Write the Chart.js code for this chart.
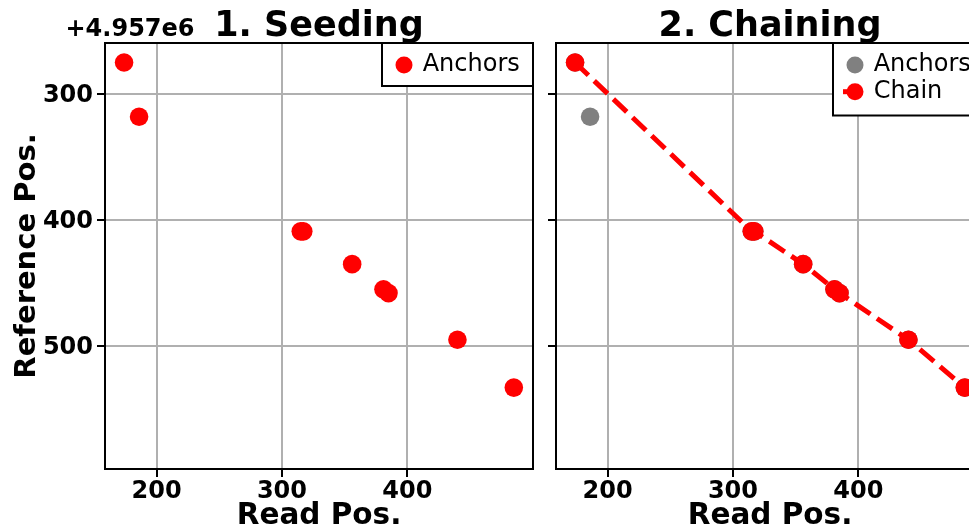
<!DOCTYPE html>
<html><head><meta charset="utf-8">
<script src="https://cdn.jsdelivr.net/npm/chart.js@4.4.1/dist/chart.umd.min.js"></script>
<style>
html,body{margin:0;padding:0;width:969px;height:530px;overflow:hidden;background:#fff;}
canvas{position:absolute;top:0;}
#c1{left:0;}
#c2{left:545px;}
</style></head><body>
<canvas id="c1" width="545" height="530"></canvas>
<canvas id="c2" width="452" height="530"></canvas>
<script>
// ---- data ----
const REF_OFFSET = 4957000;
const readPos = [174, 186, 315, 317, 356, 381, 385, 440, 485];
const refPos  = [4957275, 4957318, 4957409, 4957409, 4957435, 4957455, 4957458, 4957495, 4957533];
const chainRead = [174, 315, 317, 356, 381, 385, 440, 485];
const chainRef  = [4957275, 4957409, 4957409, 4957435, 4957455, 4957458, 4957495, 4957533];
const xTicks = [200, 300, 400];
const yTicks = [4957300, 4957400, 4957500];
const xRange = [158.8, 500.3];
const yRange = [4957259.5, 4957597.6];
const panelTitles = ['1. Seeding', '2. Chaining'];
const xLabel = 'Read Pos.';
const yLabel = 'Reference Pos.';

const FONT = '"DejaVu Sans", sans-serif';
const RED = '#ff0000', GRAY = '#808080';

function pts(xs, ys){ return xs.map((x,i)=>({x:x, y:ys[i]})); }

function decorPlugin(title, legendItems, showOffset){
  return {
    id:'decor',
    afterDraw(chart){
      const ctx = chart.ctx, a = chart.chartArea;
      ctx.save();
      // frame
      ctx.strokeStyle = '#000'; ctx.lineWidth = 2;
      ctx.strokeRect(a.left, a.top, a.right - a.left, a.bottom - a.top);
      // title
      ctx.fillStyle = '#000';
      ctx.font = 'bold 35px ' + FONT;
      ctx.textAlign = 'center'; ctx.textBaseline = 'alphabetic';
      ctx.fillText(title, (a.left + a.right)/2, 35.6);
      // offset text
      if (showOffset){
        ctx.font = 'bold 24px ' + FONT;
        ctx.textAlign = 'left';
        ctx.fillText('+' + (REF_OFFSET/1e6).toFixed(3) + 'e6', 65.5, 36.2);
      }
      // legend
      const n = legendItems.length;
      const w = 151, h = 13.5 + n*29.5;
      const L = a.right - w, T = a.top;
      ctx.fillStyle = '#fff';
      ctx.fillRect(L, T, w, h);
      ctx.strokeStyle = '#000'; ctx.lineWidth = 2;
      ctx.strokeRect(L, T, w, h);
      legendItems.forEach((it, i)=>{
        const cy = T + 22 + i*26.7, cx = L + 22;
        if (it.line){
          ctx.strokeStyle = it.color; ctx.lineWidth = 5; ctx.setLineDash([]);
          ctx.beginPath(); ctx.moveTo(L+10, cy); ctx.lineTo(cx, cy); ctx.stroke();
        }
        ctx.fillStyle = it.color;
        ctx.beginPath(); ctx.arc(cx, cy, 8.5, 0, Math.PI*2); ctx.fill();
        ctx.fillStyle = '#000';
        ctx.font = '24px ' + FONT;
        ctx.textAlign = 'left'; ctx.textBaseline = 'alphabetic';
        ctx.fillText(it.text, L + 40.7, cy + 6.3);
      });
      ctx.restore();
    }
  };
}

function makeChart(id, datasets, title, showY, legendItems, yAxisWidth, padRight){
  const gridOpts = {color:'#b0b0b0', lineWidth:2, drawTicks:true, tickLength:8, tickColor:'#000', tickWidth:2};
  return new Chart(document.getElementById(id), {
    type:'scatter',
    data:{datasets:datasets},
    options:{
      responsive:false, animation:false, devicePixelRatio:1,
      layout:{padding:{left:0, right:padRight, top:43, bottom:0}},
      plugins:{ legend:{display:false}, tooltip:{enabled:false}, title:{display:false} },
      scales:{
        x:{type:'linear', position:'bottom', min:xRange[0], max:xRange[1],
           afterBuildTicks:s=>{ s.ticks = xTicks.map(v=>({value:v})); },
           afterFit:s=>{ s.height = 61; },
           grid:gridOpts, border:{color:'#000', width:2},
           ticks:{color:'#000', font:{family:FONT, size:24, weight:'bold'}, padding:0, maxRotation:0, autoSkip:false},
           title:{display:true, text:xLabel, color:'#000', font:{family:FONT, size:29.5, weight:'bold', lineHeight:0.8}, padding:{top:0, bottom:1.7}}
        },
        y:{type:'linear', position:'left', reverse:true, min:yRange[0], max:yRange[1],
           afterBuildTicks:s=>{ s.ticks = yTicks.map(v=>({value:v})); },
           afterFit:s=>{ s.width = yAxisWidth; },
           grid:gridOpts, border:{color:'#000', width:2},
           ticks:{color:'#000', font:{family:FONT, size:24, weight:'bold'}, padding:4, labelOffset:2, autoSkip:false,
                  callback:v=> showY ? String(Math.round(v - REF_OFFSET)) : ''},
           title:{display:showY, text:yLabel, color:'#000', font:{family:FONT, size:29, weight:'bold', lineHeight:0.8}, padding:{top:15.4, bottom:0}}
        }
      }
    },
    plugins:[decorPlugin(title, legendItems, showY)]
  });
}

makeChart('c1', [
  {label:'Anchors', data:pts(readPos, refPos), backgroundColor:RED, pointBackgroundColor:RED, pointBorderWidth:0, pointRadius:9.3, borderWidth:0}
], panelTitles[0], true, [{text:'Anchors', color:RED}], 105, 12);

makeChart('c2', [
  {label:'Anchors', order:1, data:pts(readPos, refPos), backgroundColor:GRAY, pointBackgroundColor:GRAY, pointBorderWidth:0, pointRadius:9.3, borderWidth:0},
  {label:'Chain', order:0, data:pts(chainRead, chainRef), showLine:true, tension:0, borderColor:RED, borderWidth:5, borderDash:[18.5, 8],
   pointBackgroundColor:RED, pointBorderWidth:0, pointRadius:9.3}
], panelTitles[1], false, [{text:'Anchors', color:GRAY}, {text:'Chain', color:RED, line:true}], 11, 13);
</script>
</body></html>
